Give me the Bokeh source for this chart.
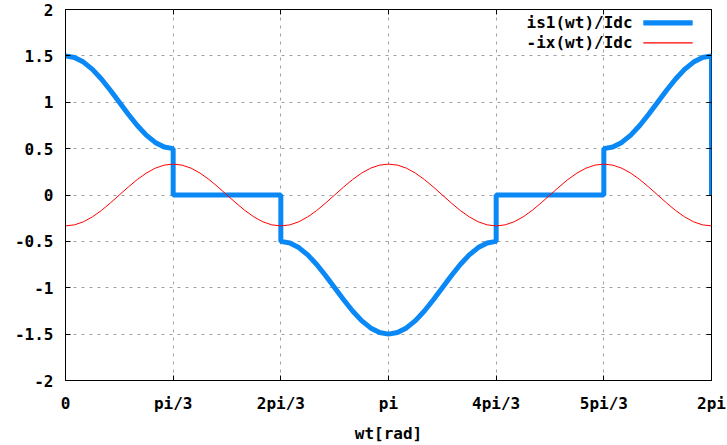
from bokeh.plotting import figure
from bokeh.models import Range1d, FixedTicker, LinearAxis, Label, BoxAnnotation
from bokeh.embed import file_html
from bokeh.resources import INLINE

# ---- data (angles in degrees) ----
x_ticks = [0, 60, 120, 180, 240, 300, 360]
x_tick_labels = ["0", "pi/3", "2pi/3", "pi", "4pi/3", "5pi/3", "2pi"]
y_ticks = [-2, -1.5, -1, -0.5, 0, 0.5, 1, 1.5, 2]
y_tick_labels = ["-2", "-1.5", "-1", "-0.5", "0", "0.5", "1", "1.5", "2"]

is1_x = [0, 5, 10, 15, 20, 25, 30, 35, 40, 45, 50, 55, 60,
         60, 120,
         120, 125, 130, 135, 140, 145, 150, 155, 160, 165, 170, 175, 180,
         185, 190, 195, 200, 205, 210, 215, 220, 225, 230, 235, 240,
         240, 300,
         300, 305, 310, 315, 320, 325, 330, 335, 340, 345, 350, 355, 360,
         360]
is1_y = [1.5, 1.483, 1.433, 1.354, 1.25, 1.129, 1.0, 0.871, 0.75, 0.646, 0.567, 0.517, 0.5,
         0.0, 0.0,
         -0.5, -0.517, -0.567, -0.646, -0.75, -0.871, -1.0, -1.129, -1.25, -1.354, -1.433, -1.483, -1.5,
         -1.483, -1.433, -1.354, -1.25, -1.129, -1.0, -0.871, -0.75, -0.646, -0.567, -0.517, -0.5,
         0.0, 0.0,
         0.5, 0.517, 0.567, 0.646, 0.75, 0.871, 1.0, 1.129, 1.25, 1.354, 1.433, 1.483, 1.5,
         0.0]

ix_x = list(range(0, 361, 5))
ix_y = [-0.333, -0.322, -0.289, -0.236, -0.167, -0.086, 0.0, 0.086, 0.167, 0.236, 0.289, 0.322,
        0.333, 0.322, 0.289, 0.236, 0.167, 0.086, 0.0, -0.086, -0.167, -0.236, -0.289, -0.322,
        -0.333, -0.322, -0.289, -0.236, -0.167, -0.086, 0.0, 0.086, 0.167, 0.236, 0.289, 0.322,
        0.333, 0.322, 0.289, 0.236, 0.167, 0.086, 0.0, -0.086, -0.167, -0.236, -0.289, -0.322,
        -0.333, -0.322, -0.289, -0.236, -0.167, -0.086, 0.0, 0.086, 0.167, 0.236, 0.289, 0.322,
        0.333, 0.322, 0.289, 0.236, 0.167, 0.086, 0.0, -0.086, -0.167, -0.236, -0.289, -0.322,
        -0.333]

series_names = ["is1(wt)/Idc", "-ix(wt)/Idc"]
BLUE = "#0a88f5"
RED = "#ff0000"
FONT = "DejaVu Sans Mono"
FS = "16px"

p = figure(width=727, height=445, output_backend="svg", toolbar_location=None,
           x_range=Range1d(0, 360), y_range=Range1d(-2, 2),
           min_border_left=65, min_border_right=16, min_border_top=9, min_border_bottom=64)
p.background_fill_color = "white"
p.border_fill_color = "white"
p.outline_line_color = "black"
p.outline_line_width = 1

for ax, ticks, labels in ((p.xaxis[0], x_ticks, x_tick_labels), (p.yaxis[0], y_ticks, y_tick_labels)):
    ax.ticker = FixedTicker(ticks=ticks)
    ax.major_label_overrides = {t: l for t, l in zip(ticks, labels)}
    ax.minor_tick_line_color = None
    ax.major_tick_in = 5
    ax.major_tick_out = 0
    ax.major_tick_line_color = "black"
    ax.axis_line_color = "black"
    ax.major_label_text_font = FONT
    ax.major_label_text_font_style = "bold"
    ax.major_label_text_font_size = FS
    ax.major_label_text_color = "black"

p.xaxis[0].major_label_standoff = 13
p.yaxis[0].major_label_standoff = 12
p.xaxis[0].axis_label = "wt[rad]"
p.xaxis[0].axis_label_text_font = FONT
p.xaxis[0].axis_label_text_font_style = "bold"
p.xaxis[0].axis_label_text_font_size = FS
p.xaxis[0].axis_label_text_color = "black"
p.xaxis[0].axis_label_standoff = 8

# mirrored ticks (top and right)
for loc, ticks in (("above", x_ticks), ("right", y_ticks)):
    a = LinearAxis(ticker=FixedTicker(ticks=ticks), major_tick_in=5, major_tick_out=0,
                   minor_tick_line_color=None, axis_line_color=None,
                   major_label_text_font_size="0px", major_label_standoff=0,
                   major_label_text_color=None)
    p.add_layout(a, loc)

for g in (p.xgrid[0], p.ygrid[0]):
    g.ticker = FixedTicker(ticks=x_ticks if g is p.xgrid[0] else y_ticks)
    g.grid_line_color = "#a0a0a0"
    g.grid_line_dash = "3 5"
    g.grid_line_width = 1

p.line(is1_x, is1_y, line_color=BLUE, line_width=5)
p.line(ix_x, ix_y, line_color=RED, line_width=1)

# legend in gnuplot style (text, then sample line)
rows = [(1.855, BLUE, 0.028), (1.64, RED, 0.006)]
for name, (yy, col, half) in zip(series_names, rows):
    p.add_layout(Label(x=316, y=yy, text=name, text_align="right", text_baseline="middle",
                       text_font=FONT, text_font_style="bold", text_font_size=FS,
                       text_color="black"))
    p.add_layout(BoxAnnotation(left=322, right=349.5, bottom=yy - half, top=yy + half,
                               fill_color=col, fill_alpha=1.0, line_color=None))

open("out.html", "w").write(file_html(p, INLINE))
